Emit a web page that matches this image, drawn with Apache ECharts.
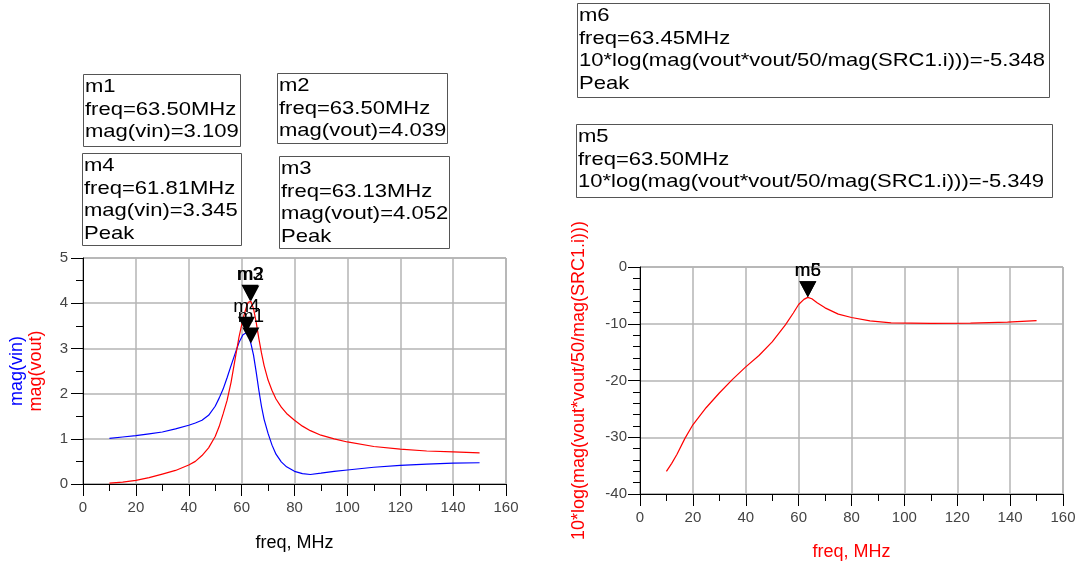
<!DOCTYPE html>
<html>
<head>
<meta charset="utf-8">
<script src="https://cdn.jsdelivr.net/npm/echarts@6/dist/echarts.min.js"></script>
<style>html,body{margin:0;padding:0;background:#fff;}#c{width:1084px;height:566px;}</style>
</head>
<body>
<div id="c"></div>
<script>
// ---- Left chart data: mag(vin), mag(vout) vs freq (MHz)
const freqL = [10, 15, 20, 25, 30, 35, 40, 42.5, 45, 47.5, 50, 51.5, 53, 54.5, 56, 57.5, 59, 60.5, 61.81, 62.5, 63.13, 63.5, 64.5, 65.5, 66.5, 67.5, 68.5, 70, 71.5, 73, 75, 77, 80, 83, 86, 90, 95, 100, 110, 120, 130, 140, 150];
const vinMag = [1.01, 1.04, 1.07, 1.11, 1.15, 1.22, 1.30, 1.35, 1.41, 1.52, 1.72, 1.90, 2.10, 2.35, 2.62, 2.88, 3.13, 3.30, 3.345, 3.30, 3.19, 3.109, 2.85, 2.48, 2.08, 1.72, 1.43, 1.12, 0.86, 0.66, 0.49, 0.38, 0.28, 0.23, 0.21, 0.24, 0.28, 0.31, 0.37, 0.41, 0.44, 0.46, 0.47];
const voutMag = [0.02, 0.04, 0.08, 0.14, 0.22, 0.30, 0.42, 0.50, 0.63, 0.80, 1.05, 1.27, 1.55, 1.85, 2.25, 2.75, 3.25, 3.65, 3.92, 4.02, 4.052, 4.039, 3.88, 3.58, 3.22, 2.90, 2.62, 2.30, 2.07, 1.88, 1.70, 1.56, 1.41, 1.28, 1.18, 1.08, 1.00, 0.93, 0.83, 0.77, 0.73, 0.71, 0.69];

// ---- Right chart data: 10*log(mag(vout*vout/50/mag(SRC1.i)))
const freqR = [10, 12, 14, 17, 20, 25, 30, 35, 40, 45, 50, 55, 58, 60, 62, 63.45, 65, 67, 70, 75, 80, 87, 95, 110, 125, 139, 150];
const powerDb = [-36.0, -34.6, -33.0, -30.2, -27.8, -24.8, -22.2, -19.8, -17.6, -15.6, -13.2, -10.2, -8.1, -6.6, -5.7, -5.348, -5.6, -6.3, -7.2, -8.3, -8.9, -9.5, -9.85, -9.95, -9.9, -9.7, -9.45];

// ---- Axis ticks
const xTicksL = {min: 0, max: 160, step: 20};
const yTicksL = {min: 0, max: 5, step: 1};
const xTicksR = {min: 0, max: 160, step: 20};
const yTicksR = {min: -40, max: 0, step: 10};

// ---- Markers
const mkNames = ['m1', 'm2', 'm3', 'm4', 'm5', 'm6'];
const mkFreq = [63.50, 63.50, 63.13, 61.81, 63.50, 63.45];
const mkVal = ['3.109', '4.039', '4.052', '3.345', '-5.349', '-5.348'];
const pExpr = '10*log(mag(vout*vout/50/mag(SRC1.i)))';
const mkExpr = ['mag(vin)', 'mag(vout)', 'mag(vout)', 'mag(vin)', pExpr, pExpr];
const mkPeak = [false, false, true, true, false, true];
const mkSeries = ['vin', 'vout', 'vout', 'vin', 'pwr', 'pwr'];

// layout of marker readout boxes [x, y, w, h]
const boxLayout = {
  m1: [83, 74, 157, 72],
  m2: [277, 73, 170, 70],
  m4: [82, 153, 159, 92],
  m3: [279, 156, 170, 92],
  m6: [577, 3, 472, 94],
  m5: [576, 124, 476, 73]
};

const FONT = '"Liberation Sans", Arial, Helvetica, sans-serif';

function pairs(xs, ys) { return xs.map((x, i) => [x, ys[i]]); }

function markData(key) {
  const out = [];
  mkNames.forEach((n, i) => {
    if (mkSeries[i] === key) out.push({name: n, coord: [mkFreq[i], parseFloat(mkVal[i])]});
  });
  return out;
}

const markPointStyle = (key) => ({
  symbol: 'triangle',
  symbolRotate: 180,
  symbolSize: [17, 16],
  symbolOffset: [0, '-50%'],
  itemStyle: {color: '#000'},
  label: {show: true, position: 'top', distance: 1, formatter: '{b}', color: '#000', fontSize: 19, fontFamily: FONT},
  data: markData(key),
  animation: false
});

function xAxisCfg(grid, t, nameColor, gap) {
  return {
    type: 'value', gridIndex: grid, min: t.min, max: t.max, interval: t.step,
    axisLine: {show: true, onZero: false, lineStyle: {color: '#000', width: 1}},
    axisTick: {show: true, length: 12, lineStyle: {color: '#000'}},
    minorTick: {show: true, splitNumber: 2, length: 7, lineStyle: {color: '#000'}},
    splitLine: {show: true, lineStyle: {color: '#b4b4b4', width: 1.5}},
    axisLabel: {fontSize: 15, color: '#444', margin: 16, fontFamily: FONT},
    name: 'freq, MHz', nameLocation: 'middle', nameGap: gap,
    nameTextStyle: {fontSize: 18, color: nameColor, fontFamily: FONT}
  };
}
function yAxisCfg(grid, t, minorSplit, labelMargin) {
  return {
    type: 'value', gridIndex: grid, min: t.min, max: t.max, interval: t.step,
    axisLine: {show: true, onZero: false, lineStyle: {color: '#000', width: 1}},
    axisTick: {show: true, length: 12, lineStyle: {color: '#000'}},
    minorTick: {show: true, splitNumber: minorSplit, length: 7, lineStyle: {color: '#000'}},
    splitLine: {show: true, lineStyle: {color: '#b4b4b4', width: 1.5}},
    axisLabel: {fontSize: 15, color: '#444', margin: labelMargin, fontFamily: FONT}
  };
}

const yL = yAxisCfg(0, yTicksL, 2, 15);
yL.name = '{a|mag(vin)}\n{b|mag(vout)}';
yL.nameLocation = 'middle';
yL.nameRotate = 90;
yL.nameGap = 37;
yL.nameTextStyle = {fontFamily: FONT, rich: {
  a: {color: '#0000ff', fontSize: 18, fontFamily: FONT, lineHeight: 19},
  b: {color: '#ff0000', fontSize: 18, fontFamily: FONT, lineHeight: 19}
}};

const yR = yAxisCfg(1, yTicksR, 5, 13);
yR.name = pExpr;
yR.nameLocation = 'middle';
yR.nameRotate = 90;
yR.nameGap = 52;
yR.nameTextStyle = {color: '#ff0000', fontSize: 18, fontFamily: FONT};

// readout boxes as graphic elements
const graphics = [];
mkNames.forEach((n, i) => {
  const [bx, by, bw, bh] = boxLayout[n];
  let txt = n + '\nfreq=' + mkFreq[i].toFixed(2) + 'MHz\n' + mkExpr[i] + '=' + mkVal[i];
  if (mkPeak[i]) txt += '\nPeak';
  graphics.push({
    type: 'rect', left: bx, top: by, silent: true,
    shape: {x: 0, y: 0, width: bw, height: bh},
    style: {fill: '#fff', stroke: '#555', lineWidth: 1}
  });
  graphics.push({
    type: 'text', x: bx + 2, y: by + 2, scaleX: 1.16, silent: true,
    style: {text: txt, font: '19px ' + FONT, fill: '#000', lineHeight: 22.5, textVerticalAlign: 'top'}
  });
});

const lineCommon = {showSymbol: false, smooth: false, z: 3};

const option = {
  animation: false,
  textStyle: {fontFamily: FONT},
  grid: [
    {left: 83, top: 258, width: 423, height: 226, show: true, borderColor: '#8c8c8c', borderWidth: 1, backgroundColor: 'transparent'},
    {left: 640, top: 267, width: 423, height: 227, show: true, borderColor: '#8c8c8c', borderWidth: 1, backgroundColor: 'transparent'}
  ],
  xAxis: [xAxisCfg(0, xTicksL, '#000', 50), xAxisCfg(1, xTicksR, '#ff0000', 49)],
  yAxis: [yL, yR],
  series: [
    Object.assign({name: 'vin', type: 'line', xAxisIndex: 0, yAxisIndex: 0, data: pairs(freqL, vinMag),
     lineStyle: {color: '#0000ff', width: 1.2}, itemStyle: {color: '#0000ff'}, markPoint: markPointStyle('vin')}, lineCommon),
    Object.assign({name: 'vout', type: 'line', xAxisIndex: 0, yAxisIndex: 0, data: pairs(freqL, voutMag),
     lineStyle: {color: '#ff0000', width: 1.2}, itemStyle: {color: '#ff0000'}, markPoint: markPointStyle('vout')}, lineCommon),
    Object.assign({name: 'pwr', type: 'line', xAxisIndex: 1, yAxisIndex: 1, data: pairs(freqR, powerDb),
     lineStyle: {color: '#ff0000', width: 1.2}, itemStyle: {color: '#ff0000'}, markPoint: markPointStyle('pwr')}, lineCommon)
  ],
  graphic: graphics
};

const chart = echarts.init(document.getElementById('c'), null, {renderer: 'canvas'});
chart.setOption(option);
</script>
</body>
</html>
